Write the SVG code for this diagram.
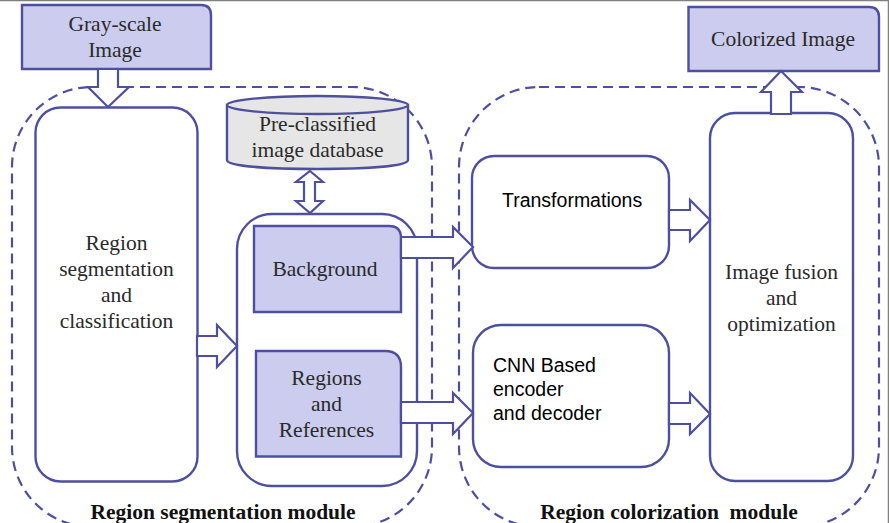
<svg xmlns="http://www.w3.org/2000/svg" width="889" height="523" viewBox="0 0 889 523">
<style>
.b{fill:#fff;stroke:#4f4f9f;stroke-width:2.4}
.p{fill:#ccccee;stroke:#4f4f9f;stroke-width:2.4}
.g{fill:#e6e6e6;stroke:#4f4f9f;stroke-width:2.4}
.d{fill:none;stroke:#4f4f9f;stroke-width:2.2;stroke-dasharray:10 6}
.a{fill:#fff;stroke:#4f4f9f;stroke-width:2.2;stroke-linejoin:miter}
text{font-family:"Liberation Serif","Times New Roman",serif;font-size:21.5px;fill:#2a2a2a;text-anchor:middle}
.s{font-family:"Liberation Sans",Arial,sans-serif;fill:#000;text-anchor:start;font-size:19.5px}
.t{font-weight:bold;fill:#111;font-size:21.5px;white-space:pre}
</style>
<rect width="889" height="523" fill="#fff"/>
<path d="M0 .5H889M888.500 0V523" fill="none" stroke="#808080" stroke-width="1.500"/>
<g id="modules">
<rect id="segmentation-module" class="d" x="12" y="87" width="420" height="440" rx="80"/>
<rect id="colorization-module" class="d" x="459" y="87" width="420" height="440" rx="80"/>
</g>
<g id="gray-scale-image"><path class="p" d="M22 5H201Q211 5 211 15V69H22Z"/><text x="115" y="31">Gray-scale</text><text x="115" y="57">Image</text></g>
<g id="colorized-image"><path class="p" d="M688.500 7H869Q879 7 879 17V71H688.500Z"/><text x="783" y="46">Colorized Image</text></g>
<g id="region-segmentation"><rect class="b" x="35.500" y="107.500" width="162" height="374" rx="25"/><text x="116.500" y="250">Region</text><text x="116.500" y="276">segmentation</text><text x="116.500" y="302">and</text><text x="116.500" y="328">classification</text></g>
<g id="database"><path class="g" d="M227 105V160C227 166 268 169 317.500 169S408 166 408 160V105Z"/><ellipse class="g" cx="317.500" cy="105" rx="90.500" ry="9"/><text x="317.500" y="131">Pre-classified</text><text x="317.500" y="157">image database</text></g>
<g id="output-container"><rect class="b" x="237" y="214" width="180" height="272" rx="35"/></g>
<g id="background"><path class="p" d="M254 226H389Q401 226 401 238V312H254Z"/><text x="325" y="276">Background</text></g>
<g id="regions-references"><path class="p" d="M256 351H385Q401 351 401 367V456.500H256Z"/><text x="326.500" y="385">Regions</text><text x="326.500" y="411">and</text><text x="326.500" y="437">References</text></g>
<g id="transformations"><rect class="b" x="472" y="156" width="197" height="112" rx="22"/><text class="s" x="502" y="207">Transformations</text></g>
<g id="cnn"><rect class="b" x="473" y="325" width="196" height="142" rx="28"/><text class="s" x="493" y="372">CNN Based</text><text class="s" x="493" y="396">encoder</text><text class="s" x="493" y="420">and decoder</text></g>
<g id="image-fusion"><rect class="b" x="710" y="113" width="143" height="368" rx="25"/><text x="781.500" y="279">Image fusion</text><text x="781.500" y="305">and</text><text x="781.500" y="331">optimization</text></g>
<g id="connectors">
<path class="a" d="M98 69H118V87H129L108 107L88 87H98Z"/>
<path class="a" d="M771 114V92H761L781 71L802 92H791V114Z"/>
<path class="a" d="M310 171L323 182H315V201H323L310 213L296 201H304V182H296Z"/>
<path class="a" d="M197 336H217V325L237 346L217 367V356H197Z"/>
<path class="a" d="M401 237H453V227L473 247L453 268V258H401Z"/>
<path class="a" d="M401 402H453V393L473 413L453 434V423H401Z"/>
<path class="a" d="M669 210H690V200L710 220L690 241V230H669Z"/>
<path class="a" d="M669 403H690V393L710 414L690 434V424H669Z"/>
</g>
<text class="t" x="223" y="519">Region segmentation module</text>
<text class="t" x="669" y="519">Region colorization  module</text>
</svg>
